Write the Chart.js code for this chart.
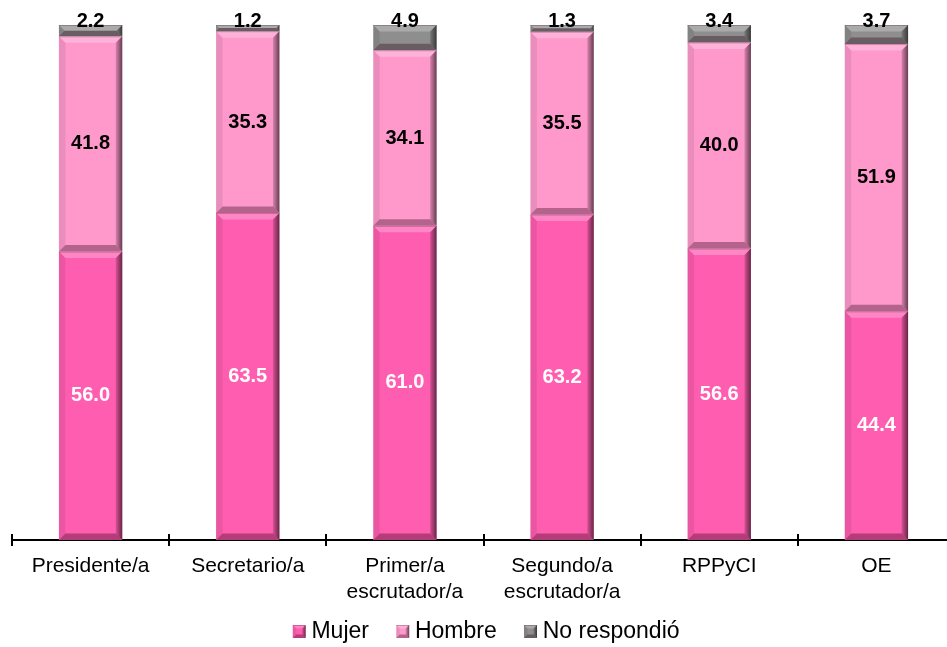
<!DOCTYPE html>
<html>
<head>
<meta charset="utf-8">
<script src="https://cdn.jsdelivr.net/npm/chart.js@4/dist/chart.umd.min.js"></script>
<style>
html,body{margin:0;padding:0;overflow:hidden;background:#fff;width:947px;height:647px}
#wrap{position:absolute;left:0;top:0;width:955px;height:653px}
</style>
</head>
<body>
<div id="wrap"><canvas id="c"></canvas></div>
<script>
const categories = [['Presidente/a'], ['Secretario/a'], ['Primer/a', 'escrutador/a'], ['Segundo/a', 'escrutador/a'], ['RPPyCI'], ['OE']];
const mujer = [56.0, 63.5, 61.0, 63.2, 56.6, 44.4];
const hombre = [41.8, 35.3, 34.1, 35.5, 40.0, 51.9];
const noRespondio = [2.2, 1.2, 4.9, 1.3, 3.4, 3.7];
const seriesNames = ['Mujer', 'Hombre', 'No respondió'];
const seriesValues = [mujer, hombre, noRespondio];
const seriesColors = ['#FF5EB0', '#FF99CC', '#8E8E8E'];
const labelColors = ['#FFFFFF', '#000000', '#000000'];

const FONT = "Arial, 'Liberation Sans', sans-serif";

function drawBevel(ctx, l, t, r, bot, b) {
  const poly = (pts, fill) => {
    ctx.beginPath();
    ctx.moveTo(pts[0][0], pts[0][1]);
    for (let i = 1; i < pts.length; i++) ctx.lineTo(pts[i][0], pts[i][1]);
    ctx.closePath();
    ctx.fillStyle = fill;
    ctx.fill();
  };
  poly([[l, t], [r, t], [r - b, t + b], [l + b, t + b]], 'rgba(255,255,255,0.25)');
  poly([[l, bot], [r, bot], [r - b, bot - b], [l + b, bot - b]], 'rgba(40,0,20,0.35)');
  poly([[l, t], [l + b, t + b], [l + b, bot - b], [l, bot]], 'rgba(0,0,0,0.08)');
  const g = ctx.createLinearGradient(r - b, 0, r, 0);
  g.addColorStop(0, 'rgba(0,0,0,0.15)');
  g.addColorStop(1, 'rgba(0,0,0,0.60)');
  poly([[r, t], [r, bot], [r - b, bot - b], [r - b, t + b]], g);
  ctx.strokeStyle = 'rgba(60,0,30,0.25)';
  ctx.lineWidth = 1;
  ctx.beginPath();
  ctx.moveTo(l, t + 0.5); ctx.lineTo(r, t + 0.5);
  ctx.stroke();
}

// legend icon: transparent margin on the left, bevelled square on the right
function makeIcon(color) {
  const cv = document.createElement('canvas');
  cv.width = 40; cv.height = 13;
  const c = cv.getContext('2d');
  c.fillStyle = color;
  c.fillRect(25, 0, 13, 13);
  drawBevel(c, 25, 0, 38, 13, 3.5);
  return cv;
}
const icons = seriesColors.map(makeIcon);

const bevelPlugin = {
  id: 'bevelLabels',
  afterDatasetsDraw(chart) {
    const ctx = chart.ctx;
    ctx.save();
    chart.data.datasets.forEach((ds, di) => {
      const meta = chart.getDatasetMeta(di);
      meta.data.forEach(el => {
        const p = el.getProps(['x', 'y', 'base', 'width'], true);
        const l = p.x - p.width / 2, r = p.x + p.width / 2;
        const t = Math.min(p.y, p.base), bot = Math.max(p.y, p.base);
        const b = Math.min(6.5, (bot - t) / 2);
        drawBevel(ctx, l, t, r, bot, b);
      });
    });
    // short tick marks above the axis at category boundaries
    const xs = chart.scales.x;
    const n = chart.data.labels.length;
    const step = xs.getPixelForValue(1) - xs.getPixelForValue(0);
    ctx.strokeStyle = '#000';
    ctx.lineWidth = 2;
    for (let i = 0; i <= n; i++) {
      const x = Math.round(xs.getPixelForValue(i) - step / 2);
      ctx.beginPath();
      ctx.moveTo(x, xs.top - 6);
      ctx.lineTo(x, xs.top);
      ctx.stroke();
    }
    // value labels
    ctx.font = 'bold 20px ' + FONT;
    ctx.textAlign = 'center';
    ctx.textBaseline = 'middle';
    chart.data.datasets.forEach((ds, di) => {
      const meta = chart.getDatasetMeta(di);
      meta.data.forEach((el, i) => {
        const p = el.getProps(['x', 'y', 'base'], true);
        const v = ds.data[i];
        const t = Math.min(p.y, p.base), bot = Math.max(p.y, p.base);
        const y = di === 2 ? t - 4 : (t + bot) / 2;
        ctx.fillStyle = labelColors[di];
        ctx.fillText(v.toFixed(1), p.x, y);
      });
    });
    ctx.restore();
  }
};

Chart.defaults.font.family = FONT;

new Chart(document.getElementById('c'), {
  type: 'bar',
  data: {
    labels: categories,
    datasets: seriesNames.map((name, i) => ({
      label: name,
      data: seriesValues[i],
      backgroundColor: seriesColors[i],
      borderWidth: 0,
      categoryPercentage: 1.0,
      barPercentage: 0.403
    }))
  },
  options: {
    responsive: true,
    maintainAspectRatio: false,
    animation: false,
    layout: { padding: { left: 0, right: 0, top: 25, bottom: 0 } },
    scales: {
      x: {
        stacked: true,
        offset: true,
        grid: { display: true, drawOnChartArea: false, offset: true, tickLength: 6, color: '#000', lineWidth: 2 },
        border: { display: true, color: '#000', width: 2 },
        ticks: { color: '#000', font: { family: FONT, size: 21 }, padding: 8, maxRotation: 0, autoSkip: false },
        afterFit(s) { s.height = 70; }
      },
      y: {
        stacked: true, display: true, min: 0, max: 100,
        grid: { display: false }, border: { display: false }, ticks: { display: false },
        afterFit(s) { s.width = 12; }
      }
    },
    plugins: {
      tooltip: { enabled: false },
      legend: {
        position: 'bottom',
        labels: {
          usePointStyle: true,
          pointStyleWidth: 24.5,
          boxHeight: 13,
          padding: 10,
          color: '#000',
          font: { family: FONT, size: 23 },
          generateLabels(chart) {
            return Chart.defaults.plugins.legend.labels.generateLabels(chart).map((l, i) => Object.assign(l, { pointStyle: icons[i] }));
          }
        }
      }
    }
  },
  plugins: [bevelPlugin]
});
</script>
</body>
</html>
